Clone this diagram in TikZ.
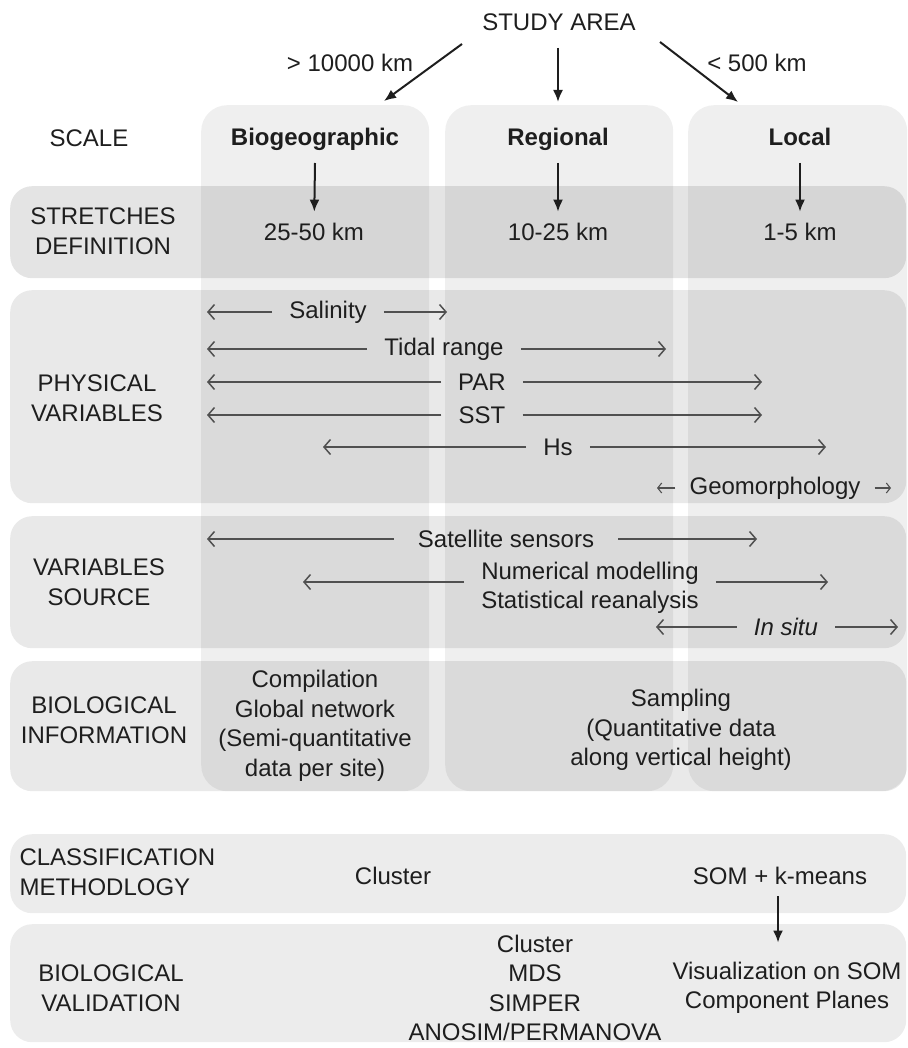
\documentclass[tikz,border=0pt]{standalone}
\usepackage{fontspec}
\setmainfont{Liberation Sans}
\usetikzlibrary{positioning,arrows.meta}
\definecolor{InkGray}{HTML}{1E1E1E}
\definecolor{SpanGray}{HTML}{505050}

\begin{document}
\begin{tikzpicture}[x=1pt,y=-1pt,font=\fontsize{24}{29.5}\selectfont,text=InkGray]
  \tikzstyle{column}=[fill=black,fill opacity=0.063,rounded corners=26pt,
    anchor=north west,inner sep=0pt]
  \tikzstyle{band}=[fill=black,fill opacity=0.086,rounded corners=22pt,
    anchor=north west,inner sep=0pt,minimum width=896pt]
  \tikzstyle{rowlabel}=[align=center]
  \tikzstyle{scalename}=[font=\fontsize{24}{29.5}\selectfont\bfseries,anchor=base]
  \tikzstyle{var}=[inner xsep=17pt]
  \tikzstyle{span}=[-{Straight Barb[length=6.5pt,width=15pt]},line width=1.5pt,color=SpanGray]
  \tikzstyle{down}=[-{Latex[length=12pt,width=10pt]},line width=2pt,color=InkGray]
  \useasboundingbox (0,0) rectangle (907,1048);

  % scale columns and row bands
  \node[column,minimum width=228pt,minimum height=686pt] (cbio) at (201,105) {};
  \node[column,minimum width=228pt,minimum height=686pt] (creg) at (445,105) {};
  \node[column,minimum width=219pt,minimum height=686pt] (cloc) at (688,105) {};
  \node[band,fill opacity=0.106,minimum height=92pt] (bstretch) at (10,186) {};
  \node[band,minimum height=213pt] (bphys) at (10,290) {};
  \node[band,minimum height=132pt] (bsource) at (10,516) {};
  \node[band,minimum height=130pt] (binfo) at (10,661) {};
  \node[band,fill opacity=0.075,minimum height=79pt] (bclass) at (10,834) {};
  \node[band,fill opacity=0.075,minimum height=118pt] (bvalid) at (10,924) {};

  % study area
  \node (study) at (559,22) {STUDY AREA};
  \node (far) at (350,63) {> 10000 km};
  \node (near) at (757,63) {< 500 km};
  \coordinate (sL) at (462,44);
  \coordinate (eL) at (384,101);
  \coordinate (sM) at (558,48);
  \coordinate (eM) at (558,102);
  \coordinate (sR) at (660,42);
  \coordinate (eR) at (738,102);
  \draw[down] (sL) -- (eL);
  \draw[down] (sM) -- (eM);
  \draw[down] (sR) -- (eR);

  % scale and stretches
  \node[rowlabel] (lscale) at (89,138) {SCALE};
  \node[scalename] (bio) at (315,146) {Biogeographic};
  \node[scalename] (reg) at (558,146) {Regional};
  \node[scalename] (loc) at (800,146) {Local};
  \node[rowlabel] (lstretch) at (103,231) {STRETCHES\\DEFINITION};
  \node (kbio) at (314,232) {25-50 km};
  \node (kreg) at (558,232) {10-25 km};
  \node (kloc) at (800,232) {1-5 km};
  \coordinate (abio) at (315,163);
  \coordinate (areg) at (558,163);
  \coordinate (aloc) at (800,163);
  \draw[down,shorten >=8pt] (abio) -- (kbio);
  \draw[down,shorten >=8pt] (areg) -- (kreg);
  \draw[down,shorten >=8pt] (aloc) -- (kloc);

  % physical variables
  \node[rowlabel] (lphys) at (97,398) {PHYSICAL\\VARIABLES};
  \node[var] (sal) at (328,312) {Salinity};
  \coordinate (salL) at (207,312);
  \coordinate (salR) at (447,312);
  \draw[span] (sal) -- (salL);
  \draw[span] (sal) -- (salR);
  \node[var] (tide) at (444,349) {Tidal range};
  \coordinate (tideL) at (207,349);
  \coordinate (tideR) at (666,349);
  \draw[span] (tide) -- (tideL);
  \draw[span] (tide) -- (tideR);
  \node[var] (par) at (482,382) {PAR};
  \coordinate (parL) at (207,382);
  \coordinate (parR) at (762,382);
  \draw[span] (par) -- (parL);
  \draw[span] (par) -- (parR);
  \node[var] (sst) at (482,415) {SST};
  \coordinate (sstL) at (207,415);
  \coordinate (sstR) at (762,415);
  \draw[span] (sst) -- (sstL);
  \draw[span] (sst) -- (sstR);
  \node[var] (hs) at (558,447) {Hs};
  \coordinate (hsL) at (323,447);
  \coordinate (hsR) at (826,447);
  \draw[span] (hs) -- (hsL);
  \draw[span] (hs) -- (hsR);
  \node[var,inner xsep=14pt] (geo) at (775,488) {Geomorphology};
  \coordinate (geoL) at (657,488);
  \coordinate (geoR) at (891,488);
  \draw[span,line width=1.1pt,-{Straight Barb[length=4pt,width=10pt]}] (geo) -- (geoL);
  \draw[span,line width=1.1pt,-{Straight Barb[length=4pt,width=10pt]}] (geo) -- (geoR);

  % variables source
  \node[rowlabel] (lsource) at (99,582) {VARIABLES\\SOURCE};
  \node[var,inner xsep=24pt] (sat) at (506,539) {Satellite sensors};
  \coordinate (satL) at (207,539);
  \coordinate (satR) at (757,539);
  \draw[span] (sat) -- (satL);
  \draw[span] (sat) -- (satR);
  \node[var,align=center] (model) at (590,588) {Numerical modelling\\Statistical reanalysis};
  \coordinate (modelL) at (303,582);
  \coordinate (modelR) at (828,582);
  \draw[span] ([yshift=6pt]model.west) -- (modelL);
  \draw[span] ([yshift=6pt]model.east) -- (modelR);
  \node[var,font=\fontsize{24}{29.5}\selectfont\itshape] (situ) at (786,627) {In situ};
  \coordinate (situL) at (656,627);
  \coordinate (situR) at (898,627);
  \draw[span] (situ) -- (situL);
  \draw[span] (situ) -- (situR);

  % biological information
  \node[rowlabel] (linfo) at (104,720) {BIOLOGICAL\\INFORMATION};
  \node[align=center] (compil) at (315,726) {Compilation\\Global network\\(Semi-quantitative\\data per site)};
  \node[align=center] (sampl) at (681,730) {Sampling\\(Quantitative data\\along vertical height)};

  % classification and validation
  \node[align=left,anchor=west] (lclass) at (16,872) {CLASSIFICATION\\METHODLOGY};
  \node (clus) at (393,876) {Cluster};
  \node (som) at (780,876) {SOM + k-means};
  \node[rowlabel] (lvalid) at (111,988) {BIOLOGICAL\\VALIDATION};
  \node[align=center] (stats) at (535,988) {Cluster\\MDS\\SIMPER\\ANOSIM/PERMANOVA};
  \node[align=center] (vis) at (787,988) {Visualization on SOM\\Component Planes};
  \draw[down,shorten <=8pt,shorten >=16pt] (som.south -| 778,0) -- (vis.north -| 778,0);
\end{tikzpicture}
\end{document}
